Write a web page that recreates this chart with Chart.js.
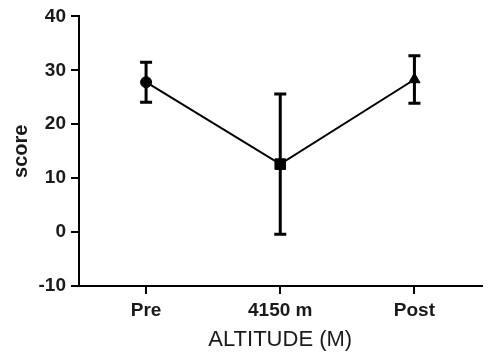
<!DOCTYPE html>
<html>
<head>
<meta charset="utf-8">
<script src="https://cdn.jsdelivr.net/npm/chart.js@4/dist/chart.umd.min.js"></script>
<style>
  html, body { margin: 0; padding: 0; background: #fff; }
  #wrap { width: 489px; height: 354px; }
</style>
</head>
<body>
<div id="wrap"><canvas id="grafico"></canvas></div>
<script>
// datos
const categorias = ['Pre', '4150 m', 'Post'];
const medias = [27.8, 12.6, 28.3];
const errores = [3.7, 13.0, 4.4];
const marcadores = ['circle', 'rect', 'triangle'];
const ticksY = [-10, 0, 10, 20, 30, 40];

const FUENTE = "'Liberation Sans', Arial, Helvetica, sans-serif";

// barras de error (media +/- error)
const barrasError = {
  id: 'barrasError',
  beforeDatasetsDraw(chart) {
    const { ctx, scales: { x, y } } = chart;
    ctx.save();
    ctx.strokeStyle = '#000';
    ctx.lineWidth = 3;
    ctx.lineCap = 'butt';
    medias.forEach((m, i) => {
      const px = x.getPixelForValue(i);
      const top = y.getPixelForValue(m + errores[i]);
      const bot = y.getPixelForValue(m - errores[i]);
      ctx.beginPath();
      ctx.moveTo(px, top); ctx.lineTo(px, bot);
      ctx.moveTo(px - 6, top); ctx.lineTo(px + 6, top);
      ctx.moveTo(px - 6, bot); ctx.lineTo(px + 6, bot);
      ctx.stroke();
    });
    ctx.restore();
  }
};

new Chart(document.getElementById('grafico'), {
  type: 'line',
  data: {
    labels: categorias,
    datasets: [{
      data: medias,
      borderColor: '#000',
      backgroundColor: '#000',
      borderWidth: 2,
      pointStyle: marcadores,
      pointRadius: [5.5, 7.5, 6.5],
      pointBackgroundColor: '#000',
      pointBorderColor: '#000',
      pointBorderWidth: 1,
      tension: 0,
      fill: false
    }]
  },
  options: {
    responsive: true,
    maintainAspectRatio: false,
    animation: false,
    layout: { padding: { top: 16, right: 2, left: 0, bottom: 0 } },
    plugins: {
      legend: { display: false },
      tooltip: { enabled: false }
    },
    scales: {
      x: {
        offset: true,
        grid: { display: true, drawOnChartArea: false, drawTicks: true, tickLength: 8, color: '#000', lineWidth: 2 },
        border: { display: true, color: '#000', width: 2 },
        ticks: { color: '#1a1a1a', font: { family: FUENTE, size: 19, weight: 'bold' }, padding: 5, maxRotation: 0 },
        title: { display: true, text: 'ALTITUDE (M)', color: '#1a1a1a', font: { family: FUENTE, size: 22 }, padding: { top: 2, bottom: 1 } },
        afterFit(scale) { scale.height = 68; }
      },
      y: {
        min: -10,
        max: 40,
        afterBuildTicks(scale) { scale.ticks = ticksY.map(v => ({ value: v })); },
        grid: { display: true, drawOnChartArea: false, drawTicks: true, tickLength: 8, color: '#000', lineWidth: 2 },
        border: { display: true, color: '#000', width: 2 },
        ticks: { color: '#1a1a1a', font: { family: FUENTE, size: 19, weight: 'bold' }, padding: 5 },
        title: { display: true, text: 'score', color: '#1a1a1a', font: { family: FUENTE, size: 20, weight: 'bold' }, padding: { top: 9, bottom: 2 } },
        afterFit(scale) { scale.width = 79; }
      }
    }
  },
  plugins: [barrasError]
});
</script>
</body>
</html>
